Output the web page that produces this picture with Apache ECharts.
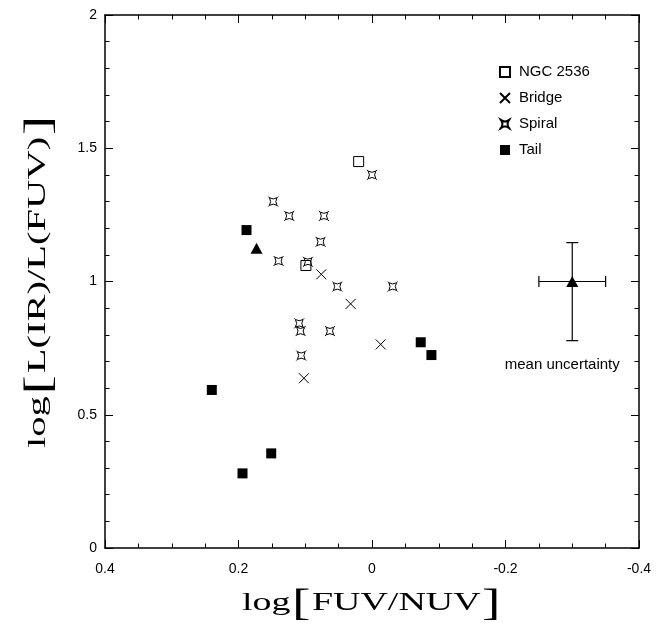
<!DOCTYPE html>
<html>
<head>
<meta charset="utf-8">
<script src="https://cdn.jsdelivr.net/npm/echarts@6/dist/echarts.min.js"></script>
<style>
html,body{margin:0;padding:0;background:#fff;}
#chart{width:660px;height:628px;}
</style>
</head>
<body>
<div id="chart"></div>
<script>
// ---- data ----
const xTicks = [-0.4, -0.2, 0, 0.2, 0.4];
const yTicks = [0, 0.5, 1, 1.5, 2];

const ngcX = [0.020, 0.099];
const ngcY = [1.450, 1.060];

const bridgeX = [0.076, 0.032, -0.013, 0.102];
const bridgeY = [1.027, 0.916, 0.764, 0.637];

const spiralX = [0.000, 0.148, 0.124, 0.072, 0.077, 0.140, 0.096, 0.052, -0.031, 0.109, 0.107, 0.063, 0.106];
const spiralY = [1.400, 1.300, 1.246, 1.246, 1.149, 1.077, 1.074, 0.981, 0.981, 0.843, 0.814, 0.814, 0.722];

const tailX = [0.188, 0.240, -0.073, -0.089, 0.151, 0.194];
const tailY = [1.193, 0.593, 0.772, 0.724, 0.355, 0.280];

const triX = [0.173];
const triY = [1.125];

// mean uncertainty: center, x error, y error (+ / -)
const uncX = [-0.300];
const uncY = [1.000];
const uncXErr = [0.050];
const uncYErrPlus = [0.146];
const uncYErrMinus = [0.222];

const legendNames = ['NGC 2536', 'Bridge', 'Spiral', 'Tail'];
const xTitle = 'log{b|[}FUV/NUV{b|]}';
const yTitle = 'log{b|[}L(IR)/L(FUV){b|]}';
const uncLabel = 'mean uncertainty';

// ---- build ----
const zip = (a, b) => a.map((v, i) => [v, b[i]]);
const SANS = 'Liberation Sans, Arial, Helvetica, sans-serif';
const SERIF = 'Liberation Serif, Times New Roman, serif';

const crossPath = 'path://M0,0L10,10M10,0L0,10';
const spiralPath = 'path://M1.2,1.2Q5,3.6 8.8,1.2Q6.4,5 8.8,8.8Q5,6.4 1.2,8.8Q3.6,5 1.2,1.2ZM0,0L1.2,1.2M10,0L8.8,1.2M10,10L8.8,8.8M0,10L1.2,8.8';

const axisLineStyle = {color: '#000', width: 1.5};
function xAxisCfg(pos, showLabel) {
  return {
    type: 'value', position: pos, min: -0.4, max: 0.4, interval: 0.2, inverse: true,
    axisLine: {show: true, onZero: false, lineStyle: axisLineStyle},
    axisTick: {show: true, inside: true, length: 8, lineStyle: {color: '#000', width: 1}},
    minorTick: {show: true, splitNumber: 4, length: 4.5, lineStyle: {color: '#000', width: 1}},
    splitLine: {show: false}, minorSplitLine: {show: false},
    axisLabel: {show: showLabel, margin: 14, color: '#000', fontSize: 14, fontFamily: SANS,
      formatter: v => String(Math.round(v * 10) / 10)}
  };
}
function yAxisCfg(pos, showLabel) {
  return {
    type: 'value', position: pos, min: 0, max: 2, interval: 0.5,
    axisLine: {show: true, onZero: false, lineStyle: axisLineStyle},
    axisTick: {show: true, inside: true, length: 8, lineStyle: {color: '#000', width: 1}},
    minorTick: {show: true, splitNumber: 5, length: 4.5, lineStyle: {color: '#000', width: 1}},
    splitLine: {show: false}, minorSplitLine: {show: false},
    axisLabel: {show: showLabel, margin: 8, color: '#000', fontSize: 14, fontFamily: SANS,
      formatter: v => String(Math.round(v * 10) / 10)}
  };
}

const hollow = {color: 'rgba(0,0,0,0)', borderColor: '#000', borderWidth: 1, opacity: 1};
const solid = {color: '#000', opacity: 1};

const chart = echarts.init(document.getElementById('chart'), null, {renderer: 'canvas'});
chart.setOption({
  backgroundColor: '#fff',
  animation: false,
  grid: {left: 105, right: 21, top: 15, bottom: 80, containLabel: false},
  xAxis: [xAxisCfg('bottom', true), xAxisCfg('top', false)],
  yAxis: [yAxisCfg('left', true), yAxisCfg('right', false)],
  legend: {
    data: legendNames, orient: 'vertical', left: 494, top: 59,
    itemWidth: 10, itemHeight: 10, itemGap: 10,
    textStyle: {color: '#000', fontSize: 15, fontFamily: SANS, lineHeight: 16, padding: [0, 0, 0, 4]},
    selectedMode: false
  },
  graphic: [
    {type: 'text', x: 372, y: 603, scaleX: 1.46, silent: true,
      style: {text: xTitle, fontFamily: SERIF, fontSize: 26, fill: '#000', align: 'center', verticalAlign: 'middle',
        rich: {b: {fontFamily: SERIF, fontSize: 38, fill: '#000', padding: [4, 1, 0, 1]}}}},
    {type: 'text', x: 38, y: 281, rotation: Math.PI / 2, scaleX: 1.56, silent: true,
      style: {text: yTitle, fontFamily: SERIF, fontSize: 26, fill: '#000', align: 'center', verticalAlign: 'middle',
        rich: {b: {fontFamily: SERIF, fontSize: 38, fill: '#000', padding: [4, 1, 0, 1]}}}}
  ],
  series: [
    {name: 'NGC 2536', type: 'scatter', data: zip(ngcX, ngcY), symbol: 'rect', symbolSize: 10, itemStyle: hollow, z: 2},
    {name: 'Bridge', type: 'scatter', data: zip(bridgeX, bridgeY), symbol: crossPath, symbolSize: 10, itemStyle: hollow, z: 3},
    {name: 'Spiral', type: 'scatter', data: zip(spiralX, spiralY), symbol: spiralPath, symbolSize: 10, itemStyle: hollow, z: 3},
    {name: 'Tail', type: 'scatter', data: zip(tailX, tailY), symbol: 'rect', symbolSize: 10, itemStyle: solid, z: 3},
    {name: 'Tail (triangle)', type: 'scatter', data: zip(triX, triY), symbol: 'triangle', symbolSize: [12, 11], itemStyle: solid, z: 3},
    {name: 'Mean uncertainty', type: 'scatter', data: zip(uncX, uncY), symbol: 'triangle', symbolSize: [12, 11], itemStyle: solid, z: 4},
    {
      name: 'uncertainty bars', type: 'custom', z: 3,
      data: uncX.map((v, i) => [v, uncY[i], uncXErr[i], uncYErrPlus[i], uncYErrMinus[i]]),
      encode: {x: 0, y: 1},
      renderItem: function (params, api) {
        const x = api.value(0), y = api.value(1);
        const xe = api.value(2), yp = api.value(3), ym = api.value(4);
        const c = api.coord([x, y]);
        const l = api.coord([x + xe, y]);
        const r = api.coord([x - xe, y]);
        const t = api.coord([x, y + yp]);
        const b = api.coord([x, y - ym]);
        const ls = {stroke: '#000', lineWidth: 1.2};
        const cap = 5.5;
        return {
          type: 'group',
          children: [
            {type: 'line', shape: {x1: l[0], y1: l[1], x2: r[0], y2: r[1]}, style: ls},
            {type: 'line', shape: {x1: t[0], y1: t[1], x2: b[0], y2: b[1]}, style: ls},
            {type: 'line', shape: {x1: l[0], y1: l[1] - cap, x2: l[0], y2: l[1] + cap}, style: ls},
            {type: 'line', shape: {x1: r[0], y1: r[1] - cap, x2: r[0], y2: r[1] + cap}, style: ls},
            {type: 'line', shape: {x1: t[0] - 6, y1: t[1], x2: t[0] + 6, y2: t[1]}, style: ls},
            {type: 'line', shape: {x1: b[0] - 6, y1: b[1], x2: b[0] + 6, y2: b[1]}, style: ls},
            {type: 'text', style: {text: uncLabel, x: c[0] - 10, y: b[1] + 24, align: 'center', verticalAlign: 'middle',
              fontSize: 15, fontFamily: SANS, fill: '#000'}}
          ]
        };
      }
    }
  ]
});
</script>
</body>
</html>
